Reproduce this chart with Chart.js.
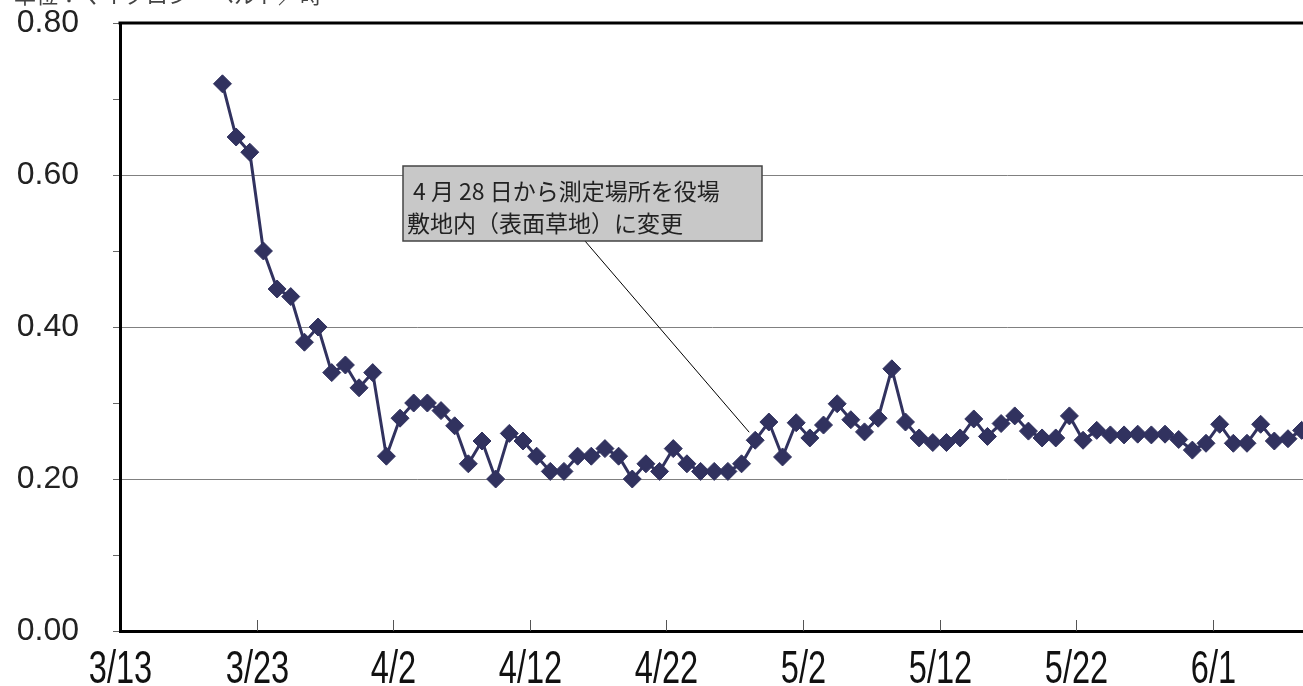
<!DOCTYPE html>
<html>
<head>
<meta charset="utf-8">
<script src="https://cdn.jsdelivr.net/npm/chart.js@4"></script>
<style>
  html, body { margin: 0; padding: 0; background: #fff; }
  #wrap { width: 1303px; height: 686px; position: relative; }
</style>
</head>
<body>
<div id="wrap"><canvas id="doseChart"></canvas></div>
<script>
// 空間放射線量（日ごとの測定値）
const unitLabel = '単位：マイクロシーベルト／時';
const noteLines = ['4 月 28 日から測定場所を役場', '敷地内（表面草地）に変更'];
// x軸の目盛ラベル（10日ごと、3/13 起点）
const tickLabels = ['3/13', '3/23', '4/2', '4/12', '4/22', '5/2', '5/12', '5/22', '6/1'];
// 最初の測定日は 3/13 から 7 日後（3/20）
const firstDayOffset = 7;
const noteDayIndex = 39; // 4/28
const doseValues = [
  0.72, 0.65, 0.63, 0.50, 0.45, 0.44, 0.38, 0.40, 0.34, 0.35,
  0.32, 0.34, 0.23, 0.28, 0.30, 0.30, 0.29, 0.27, 0.22, 0.25,
  0.20, 0.26, 0.25, 0.23, 0.21, 0.21, 0.23, 0.23, 0.24, 0.23,
  0.20, 0.22, 0.21, 0.24, 0.22, 0.21, 0.21, 0.21, 0.22, 0.251,
  0.275, 0.229, 0.274, 0.254, 0.271, 0.299, 0.278, 0.262, 0.280, 0.345,
  0.275, 0.254, 0.248, 0.248, 0.254, 0.279, 0.256, 0.273, 0.283, 0.263,
  0.254, 0.254, 0.283, 0.251, 0.264, 0.258, 0.258, 0.259, 0.258, 0.259,
  0.252, 0.238, 0.247, 0.272, 0.247, 0.247, 0.272, 0.250, 0.253, 0.264
];

// 日付の位置は区間の中央（Excel の「目盛の間」と同じ）
const points = doseValues.map((v, i) => ({ x: firstDayOffset + i + 0.5, y: v }));
const lineColor = '#31325f';

const frame = {
  id: 'frame',
  beforeDraw(chart) {
    const { ctx } = chart;
    ctx.save();
    ctx.font = '22px "Noto Sans CJK JP"';
    ctx.fillStyle = '#444';
    ctx.textBaseline = 'alphabetic';
    ctx.fillText(unitLabel, 14, 3);
    ctx.restore();
  },
  afterDatasetsDraw(chart) {
    const { ctx, chartArea: a, scales } = chart;
    ctx.save();
    // 上の枠線
    ctx.strokeStyle = '#000';
    ctx.lineWidth = 3;
    ctx.beginPath();
    ctx.moveTo(a.left - 1.5, a.top);
    ctx.lineTo(a.right, a.top);
    ctx.stroke();
    // x軸の内向き目盛とラベル（縦長の字形）
    ctx.lineWidth = 1;
    ctx.font = '44px "Liberation Sans", Arial';
    ctx.textAlign = 'center';
    ctx.textBaseline = 'alphabetic';
    tickLabels.forEach((label, i) => {
      const x = Math.round(scales.x.getPixelForValue(i * 10)) + 0.5;
      if (i > 0) {
        ctx.strokeStyle = '#555';
        ctx.beginPath();
        ctx.moveTo(x, a.bottom);
        ctx.lineTo(x, a.bottom - 11);
        ctx.stroke();
      }
      ctx.save();
      ctx.translate(x, 683);
      ctx.scale(0.74, 1.05);
      ctx.fillStyle = '#111';
      ctx.fillText(label, 0, 0);
      ctx.restore();
    });
    // 注記
    const bx = 403, by = 166, bw = 359, bh = 75;
    const px = scales.x.getPixelForValue(points[noteDayIndex].x);
    const py = scales.y.getPixelForValue(points[noteDayIndex].y);
    ctx.strokeStyle = '#000';
    ctx.beginPath();
    ctx.moveTo(585, by + bh);
    ctx.lineTo(px - 6, py - 8);
    ctx.stroke();
    ctx.fillStyle = '#c8c8c8';
    ctx.fillRect(bx, by, bw, bh);
    ctx.strokeStyle = '#444';
    ctx.lineWidth = 1.5;
    ctx.strokeRect(bx, by, bw, bh);
    ctx.fillStyle = '#222';
    ctx.textAlign = 'left';
    ctx.font = '23px "Noto Sans CJK JP"';
    ctx.fillText(noteLines[0], bx + 10, by + 34);
    ctx.fillText(noteLines[1], bx + 4, by + 66);
    ctx.restore();
  }
};

new Chart(document.getElementById('doseChart').getContext('2d'), {
  type: 'line',
  data: {
    datasets: [{
      data: points,
      borderColor: lineColor,
      backgroundColor: lineColor,
      borderWidth: 3,
      tension: 0,
      pointStyle: 'rectRot',
      pointRadius: 9,
      pointBorderWidth: 1,
      clip: false
    }]
  },
  options: {
    responsive: true,
    maintainAspectRatio: false,
    animation: false,
    layout: { autoPadding: false, padding: { top: 23, right: 0, left: 0, bottom: 0 } },
    plugins: { legend: { display: false }, tooltip: { enabled: false } },
    scales: {
      x: {
        type: 'linear',
        min: 0,
        max: 86.6,
        afterFit: s => {
          s.height = 55;
          s.paddingLeft = 0; s.paddingRight = 0;
        },
        afterBuildTicks: s => { s.ticks = tickLabels.map((_, i) => ({ value: i * 10 })); },
        ticks: { display: false },
        grid: { display: true, drawOnChartArea: false, drawTicks: false },
        border: { display: true, color: '#000', width: 3 }
      },
      y: {
        min: 0,
        max: 0.8,
        afterFit: s => {
          s.width = 120;
          s.paddingTop = 0; s.paddingBottom = 0;
        },
        ticks: {
          stepSize: 0.1,
          padding: 34,
          color: '#222',
          font: { family: '"Liberation Sans", Arial', size: 32 },
          callback: v => (Math.round(v * 10) % 2 === 0 ? v.toFixed(2) : '')
        },
        grid: {
          tickLength: 7,
          tickColor: '#666',
          color: c => {
            const k = Math.round(c.tick.value * 10);
            return (k % 2 === 0 && k > 0 && k < 8) ? '#808080' : 'rgba(0,0,0,0)';
          }
        },
        border: { display: true, color: '#000', width: 3 }
      }
    }
  },
  plugins: [frame]
});
</script>
</body>
</html>
